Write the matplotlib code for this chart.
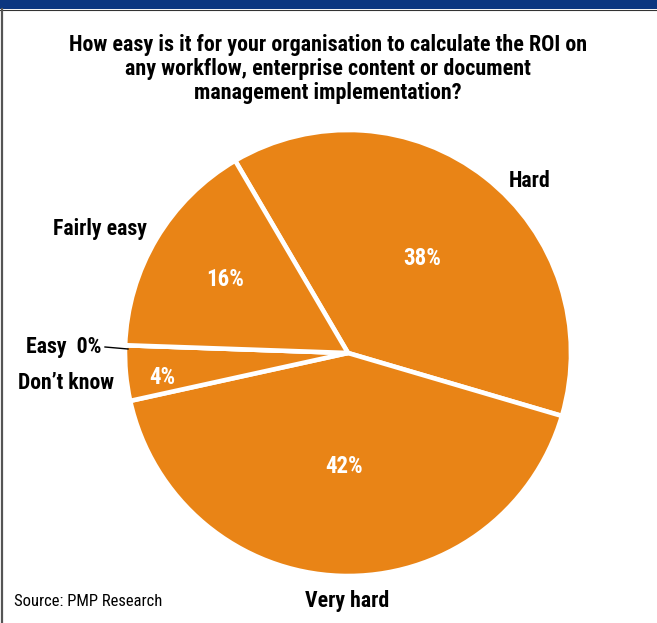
import numpy as np
import matplotlib.pyplot as plt
from matplotlib import font_manager
from matplotlib.patches import Rectangle

categories = ["Hard", "Very hard", "Don\u2019t know", "Easy", "Fairly easy"]
shares = [38, 42, 4, 0, 16]

title = ("How easy is it for your organisation to calculate the ROI on\n"
         "any workflow, enterprise content or document\n"
         "management implementation?")
source = "Source: PMP Research"

ORANGE = "#E98416"
NAVY = "#0B3680"

names = {f.name for f in font_manager.fontManager.ttflist}
narrow = "Roboto Condensed" if "Roboto Condensed" in names else "DejaVu Sans"
plt.rcParams["font.family"] = [narrow, "DejaVu Sans"]

W, H = 657, 623
fig = plt.figure(figsize=(W / 100, H / 100), dpi=100)
ax = fig.add_axes([0, 0, 1, 1])

# frame: navy band on top, grey rule down the left side
ax.add_patch(Rectangle((0, H - 9), W, 9, color=NAVY, lw=0))
ax.plot([0, W], [H - 9.5, H - 9.5], color="#333333", lw=0.8)
ax.plot([2, 2], [0, H - 9], color="#555555", lw=1.6)

cx, cy, r = 348, H - 353, 223
wedges, _ = ax.pie(shares, startangle=120.4, counterclock=False,
                   colors=[ORANGE] * len(shares), center=(cx, cy), radius=r,
                   wedgeprops=dict(edgecolor="white", linewidth=3.3),
                   frame=True)
ax.set_xlim(0, W)
ax.set_ylim(0, H)
ax.set_aspect("auto")
ax.axis("off")

# percentage labels inside the slices
pct_dist = {"Hard": 0.54, "Very hard": 0.51, "Don\u2019t know": 0.84,
            "Fairly easy": 0.64}
for w, name, v in zip(wedges, categories, shares):
    if name not in pct_dist:
        continue
    mid = np.deg2rad((w.theta1 + w.theta2) / 2)
    if name == "Don\u2019t know":
        mid += np.deg2rad(2.2)
    d = pct_dist[name] * r
    ax.text(cx + d * np.cos(mid), cy + d * np.sin(mid), f"{v}%",
            color="white", fontsize=16.5, fontweight="bold",
            ha="center", va="center")

# category labels around the pie
outer = {"Hard": (530, 181), "Very hard": (347, 601),
         "Don\u2019t know": (66, 383), "Fairly easy": (100, 229)}
for name, (x, y) in outer.items():
    ax.text(x, H - y, name, fontsize=15.7, fontweight="bold",
            ha="center", va="center")

easy = shares[categories.index("Easy")]
ax.text(101, H - 347, f"Easy  {easy}%", fontsize=15.7, fontweight="bold",
        ha="right", va="center")
ax.plot([105, 128], [H - 347, H - 349], color="black", lw=1.0)

ax.text(328, H - 69, title, fontsize=15.8, fontweight="bold",
        ha="center", va="center", linespacing=1.1)
ax.text(14, H - 601, source, fontsize=12, ha="left", va="center")

fig.savefig("out.png", dpi=100)
